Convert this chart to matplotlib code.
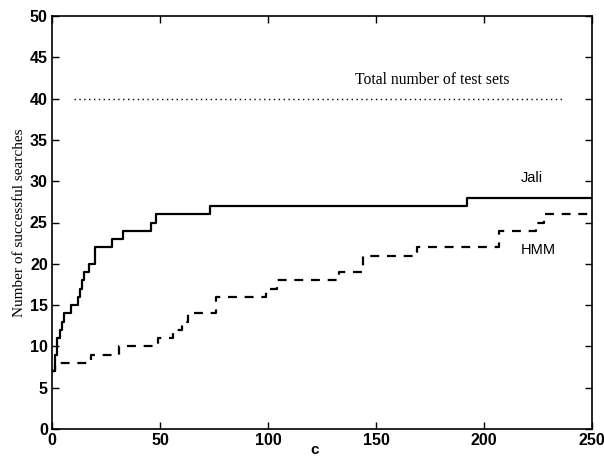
import matplotlib
matplotlib.use("Agg")
import matplotlib.pyplot as plt

jali_x = [0, 1.5, 2.5, 3.5, 4.5, 5.5, 9, 12, 13, 14, 15, 17, 20, 28, 33, 46, 48, 73, 192, 250]
jali_y = [7, 9, 11, 12, 13, 14, 15, 16, 17, 18, 19, 20, 22, 23, 24, 25, 26, 27, 28, 28]

hmm_x = [0, 1.5, 18, 31, 49, 56, 60, 63, 76, 99, 104, 133, 144, 169, 207, 224, 228, 250]
hmm_y = [7, 8, 9, 10, 11, 12, 13, 14, 16, 17, 18, 19, 21, 22, 24, 25, 26, 26]

total_x = [10, 237]
total_y = [40, 40]

xticks = [0, 50, 100, 150, 200, 250]
yticks = [0, 5, 10, 15, 20, 25, 30, 35, 40, 45, 50]

fig = plt.figure(figsize=(6.04, 4.63), dpi=100)
ax = fig.add_axes([52/604, 34/463, 540/604, 413/463])

ax.plot(jali_x, jali_y, drawstyle='steps-post', color='black', lw=1.6)
ax.plot(hmm_x, hmm_y, drawstyle='steps-post', color='black', lw=1.6,
        linestyle=(0, (4, 3.5)))
ax.plot(total_x, total_y, color='black', lw=1.0, linestyle=(0, (1, 2.5)))

ax.set_xlim(0, 250)
ax.set_ylim(0, 50)
ax.set_xticks(xticks)
ax.set_yticks(yticks)
ax.tick_params(direction='in', top=True, right=True, length=5, width=1,
               labelsize=11.5, pad=3)
for lab in ax.get_xticklabels() + ax.get_yticklabels():
    lab.set_fontfamily('Liberation Sans')
    lab.set_fontweight('bold')
for s in ax.spines.values():
    s.set_linewidth(1.2)

ax.text(176, 42.2, 'Total number of test sets', family='Liberation Serif',
        fontsize=11.3, ha='center', va='center')
ax.text(222, 30.4, 'Jali', family='Liberation Sans', fontsize=10.5,
        ha='center', va='center')
ax.text(225, 21.7, 'HMM', family='Liberation Sans', fontsize=10.5,
        ha='center', va='center')

ax.set_ylabel('Number of successful searches', family='Liberation Serif',
              fontsize=11, labelpad=3)
fig.text(315/604, 1 - 457/463, 'c', family='Liberation Sans', fontsize=11,
         ha='center', va='bottom', fontweight='bold')

fig.savefig('out.png', dpi=100)
